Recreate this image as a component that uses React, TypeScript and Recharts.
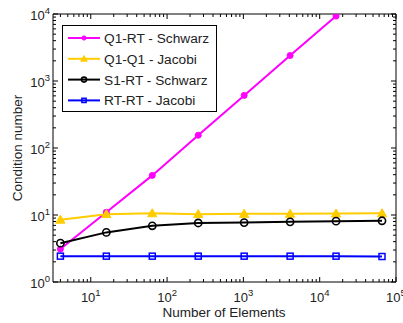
import React from 'react';
import { LineChart, Line, XAxis, YAxis } from 'recharts';

const elements = [4, 16, 64, 256, 1024, 4096, 16384, 65536];
const q1rtSchwarz = [3.1, 11, 39, 155, 610, 2400, 9300];
const q1q1Jacobi = [8.5, 10.3, 10.6, 10.3, 10.4, 10.4, 10.5, 10.6];
const s1rtSchwarz = [3.8, 5.5, 6.9, 7.6, 7.7, 7.9, 8.1, 8.2];
const rtrtJacobi = [2.43, 2.43, 2.43, 2.43, 2.43, 2.43, 2.43, 2.4];

const series = [
  { key: 'q1rt', name: 'Q1-RT - Schwarz', color: '#ff00ff', marker: 'dot', values: q1rtSchwarz },
  { key: 'q1q1', name: 'Q1-Q1 - Jacobi', color: '#ffcc00', marker: 'triangle', values: q1q1Jacobi },
  { key: 's1rt', name: 'S1-RT - Schwarz', color: '#000000', marker: 'circle', values: s1rtSchwarz },
  { key: 'rtrt', name: 'RT-RT - Jacobi', color: '#0000ff', marker: 'square', values: rtrtJacobi },
];

const data = elements.map((n, i) => {
  const row: any = { n };
  series.forEach((s) => {
    if (i < s.values.length) row[s.key] = s.values[i];
  });
  return row;
});

// log ticks incl. minor ones
const minors = (lo: number, hi: number) => {
  const out: number[] = [];
  for (let p = 1; p <= hi * 10; p *= 10) {
    for (let m = 1; m < 10; m++) {
      const v = m * p;
      if (v >= lo && v <= hi) out.push(v);
    }
  }
  return out;
};
const xTicks = minors(3.2, 100000);
const yTicks = minors(1, 10000);

const isMajor = (v: number) => Math.abs(Math.log10(v) - Math.round(Math.log10(v))) < 1e-6;
const font = '"Liberation Sans", Arial, sans-serif';
const textColor = '#222';

const Pow = ({ x, y, exp, anchor }: any) => (
  <text x={x} y={y} textAnchor={anchor} fontSize={13} fill={textColor} fontFamily={font}>
    10<tspan fontSize={9.5} dy={-6}>{exp}</tspan>
  </text>
);

const makeTick = (side: string) => (props: any) => {
  const { x, y, payload } = props;
  const v = payload.value;
  const major = isMajor(v);
  const len = major ? 5 : 3;
  const exp = Math.round(Math.log10(v));
  let line;
  if (side === 'bottom') line = <line x1={x} y1={y} x2={x} y2={y - len} stroke="#000" />;
  else if (side === 'top') line = <line x1={x} y1={y} x2={x} y2={y + len} stroke="#000" />;
  else if (side === 'left') line = <line x1={x} y1={y} x2={x + len} y2={y} stroke="#000" />;
  else line = <line x1={x} y1={y} x2={x - len} y2={y} stroke="#000" />;
  return (
    <g>
      {line}
      {major && side === 'bottom' && <Pow x={x} y={y + 20} exp={exp} anchor="middle" />}
      {major && side === 'left' && <Pow x={x - 3} y={y + 6} exp={exp} anchor="end" />}
    </g>
  );
};

const Marker = ({ cx, cy, type, color, small }: any) => {
  if (cx == null || cy == null) return null;
  const k = small ? 0.7 : 1;
  if (type === 'dot') return <circle cx={cx} cy={cy} r={3 * k} fill={color} stroke={color} />;
  if (type === 'circle') return <circle cx={cx} cy={cy} r={3.6 * k} fill="none" stroke={color} strokeWidth={1.6} />;
  if (type === 'square') {
    const h = 3 * k;
    return <rect x={cx - h} y={cy - h} width={2 * h} height={2 * h} fill="none" stroke={color} strokeWidth={1.5} />;
  }
  const s = 4.6 * k;
  return (
    <polygon
      points={`${cx},${cy - s} ${cx - s},${cy + s * 0.75} ${cx + s},${cy + s * 0.75}`}
      fill={color}
      stroke={color}
    />
  );
};

// legend drawn in svg, top-left inside the plot
const LegendBox = () => (
  <g>
    <rect x={62.5} y={25.5} width={154} height={86} fill="#fff" stroke="#000" />
    {series.map((s, i) => {
      const cy = 38 + i * 20.8;
      return (
        <g key={s.key}>
          <line x1={68} y1={cy} x2={100} y2={cy} stroke={s.color} strokeWidth={2} />
          <Marker cx={84} cy={cy} type={s.marker} color={s.color} small />
          <text x={104} y={cy + 5} fontSize={13.7} fill={textColor} fontFamily={font}>
            {s.name}
          </text>
        </g>
      );
    })}
  </g>
);

const App = () => {
  return (
    <div style={{ position: 'fixed', left: 0, top: 0, width: 403, height: 323, background: '#fff' }}>
      <LineChart width={403} height={323} data={data} margin={{ top: 0, right: 0, bottom: 0, left: 0 }}>
        <XAxis
          xAxisId="b"
          dataKey="n"
          type="number"
          scale="log"
          domain={[3.2, 100000]}
          allowDataOverflow
          ticks={xTicks}
          interval={0}
          tickSize={0}
          tickMargin={0}
          height={41}
          axisLine={{ stroke: '#000' }}
          tick={makeTick('bottom')}
        />
        <XAxis
          xAxisId="t"
          orientation="top"
          dataKey="n"
          type="number"
          scale="log"
          domain={[3.2, 100000]}
          allowDataOverflow
          ticks={xTicks}
          interval={0}
          tickSize={0}
          tickMargin={0}
          height={14}
          axisLine={{ stroke: '#000' }}
          tick={makeTick('top')}
        />
        <YAxis
          yAxisId="l"
          type="number"
          scale="log"
          domain={[1, 10000]}
          allowDataOverflow
          ticks={yTicks}
          interval={0}
          tickSize={0}
          tickMargin={0}
          width={53}
          axisLine={{ stroke: '#000' }}
          tick={makeTick('left')}
        />
        <YAxis
          yAxisId="r"
          orientation="right"
          type="number"
          scale="log"
          domain={[1, 10000]}
          allowDataOverflow
          ticks={yTicks}
          interval={0}
          tickSize={0}
          tickMargin={0}
          width={7}
          axisLine={{ stroke: '#000' }}
          tick={makeTick('right')}
        />
        {series.map((s) => (
          <Line
            key={s.key}
            xAxisId="b"
            yAxisId="l"
            dataKey={s.key}
            name={s.name}
            stroke={s.color}
            strokeWidth={2}
            isAnimationActive={false}
            connectNulls
            dot={(p: any) => <Marker key={`${s.key}-${p.index}`} cx={p.cx} cy={p.cy} type={s.marker} color={s.color} />}
            activeDot={false}
          />
        ))}
        <LegendBox />
        <text x={224} y={317} textAnchor="middle" fontSize={13.5} fill={textColor} fontFamily={font}>
          Number of Elements
        </text>
        <text
          x={22}
          y={148}
          textAnchor="middle"
          fontSize={13.5}
          fill={textColor}
          fontFamily={font}
          transform="rotate(-90 22 148)"
        >
          Condition number
        </text>
      </LineChart>
    </div>
  );
};

export default App;
